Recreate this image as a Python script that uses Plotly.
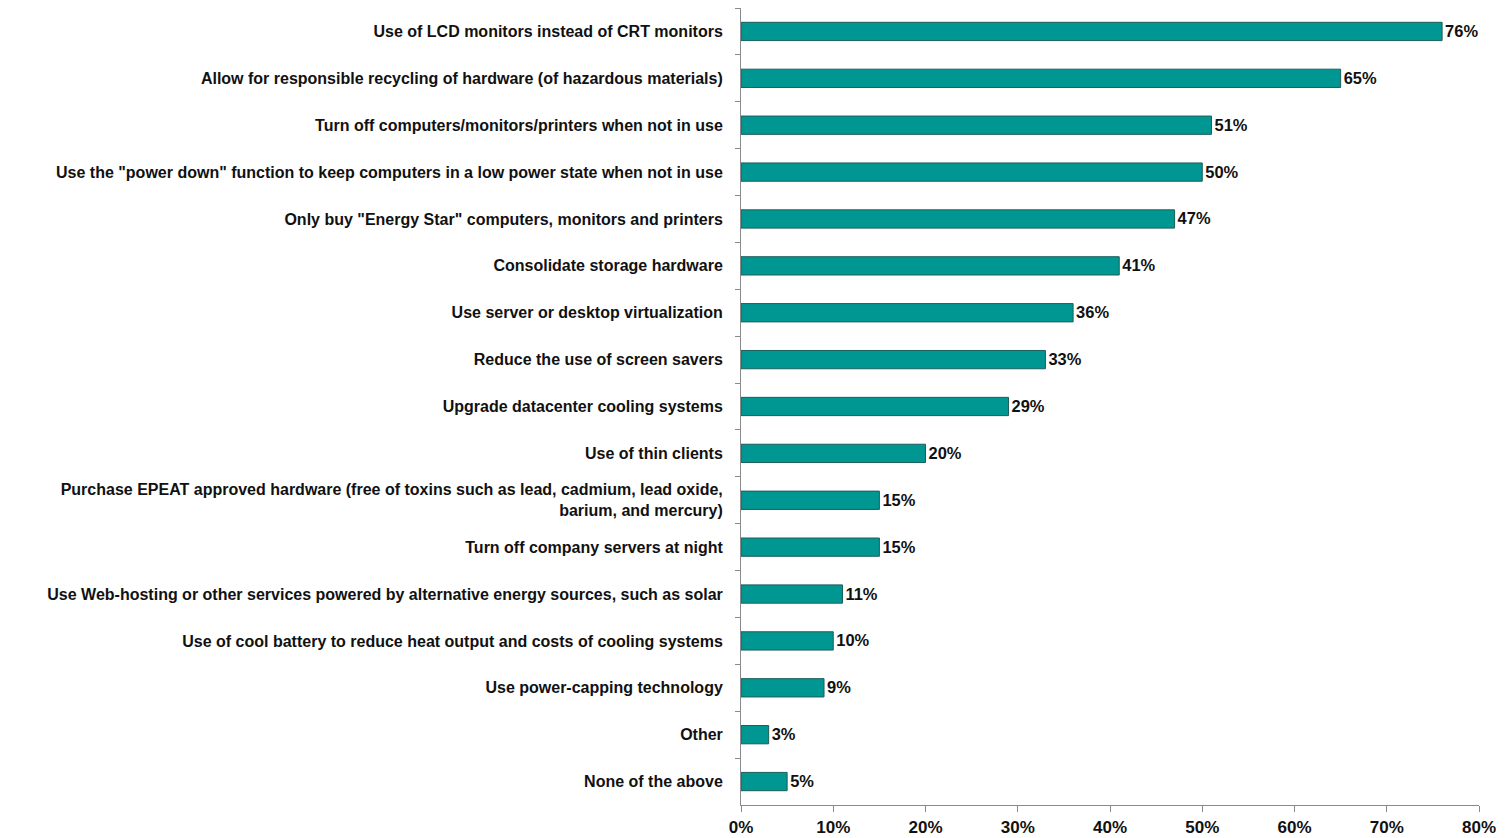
import plotly.graph_objects as go

categories = [
    "Use of LCD monitors instead of CRT monitors",
    "Allow for responsible recycling of hardware (of hazardous materials)",
    "Turn off computers/monitors/printers when not in use",
    "Use the \"power down\" function to keep computers in a low power state when not in use",
    "Only buy \"Energy Star\" computers, monitors and printers",
    "Consolidate storage hardware",
    "Use server or desktop virtualization",
    "Reduce the use of screen savers",
    "Upgrade datacenter cooling systems",
    "Use of thin clients",
    "Purchase EPEAT approved hardware (free of toxins such as lead, cadmium, lead oxide,<br>barium, and mercury)",
    "Turn off company servers at night",
    "Use Web-hosting or other services powered by alternative energy sources, such as solar",
    "Use of cool battery to reduce heat output and costs of cooling systems",
    "Use power-capping technology",
    "Other",
    "None of the above",
]
values = [76, 65, 51, 50, 47, 41, 36, 33, 29, 20, 15, 15, 11, 10, 9, 3, 5]
x_ticks = [0, 10, 20, 30, 40, 50, 60, 70, 80]

fig = go.Figure(go.Bar(
    x=values,
    y=categories,
    orientation="h",
    marker=dict(color="#009691", line=dict(color="#1d5e5a", width=1)),
    text=[f"{v}%" for v in values],
    textposition="outside",
    textfont=dict(family="Liberation Sans", size=18, color="#111111", weight="bold"),
    cliponaxis=False,
))

fig.update_layout(
    width=1507, height=838,
    margin=dict(l=741, r=28, t=8, b=33, autoexpand=False),
    plot_bgcolor="white", paper_bgcolor="white",
    bargap=0.61,
    showlegend=False,
    font=dict(family="Liberation Sans", color="#111111"),
)
fig.update_xaxes(
    range=[0, 80], tickvals=x_ticks, ticktext=[f"{t}%" for t in x_ticks],
    showgrid=False, zeroline=False, automargin=False,
    showline=True, linecolor="#8a8a8a", linewidth=1,
    ticks="outside", ticklen=6, tickcolor="#8a8a8a",
    tickfont=dict(family="Liberation Sans", size=17, color="#111111", weight="bold"),
    ticklabelstandoff=1,
)
fig.update_yaxes(
    autorange="reversed", showgrid=False, zeroline=False, automargin=False,
    showline=True, linecolor="#8a8a8a", linewidth=1,
    ticks="outside", ticklen=5, tickcolor="#8a8a8a", tickson="boundaries",
    tickfont=dict(family="Liberation Sans", size=16, color="#111111", weight="bold"),
    ticklabelstandoff=14,
)

fig.write_html("out.html")
